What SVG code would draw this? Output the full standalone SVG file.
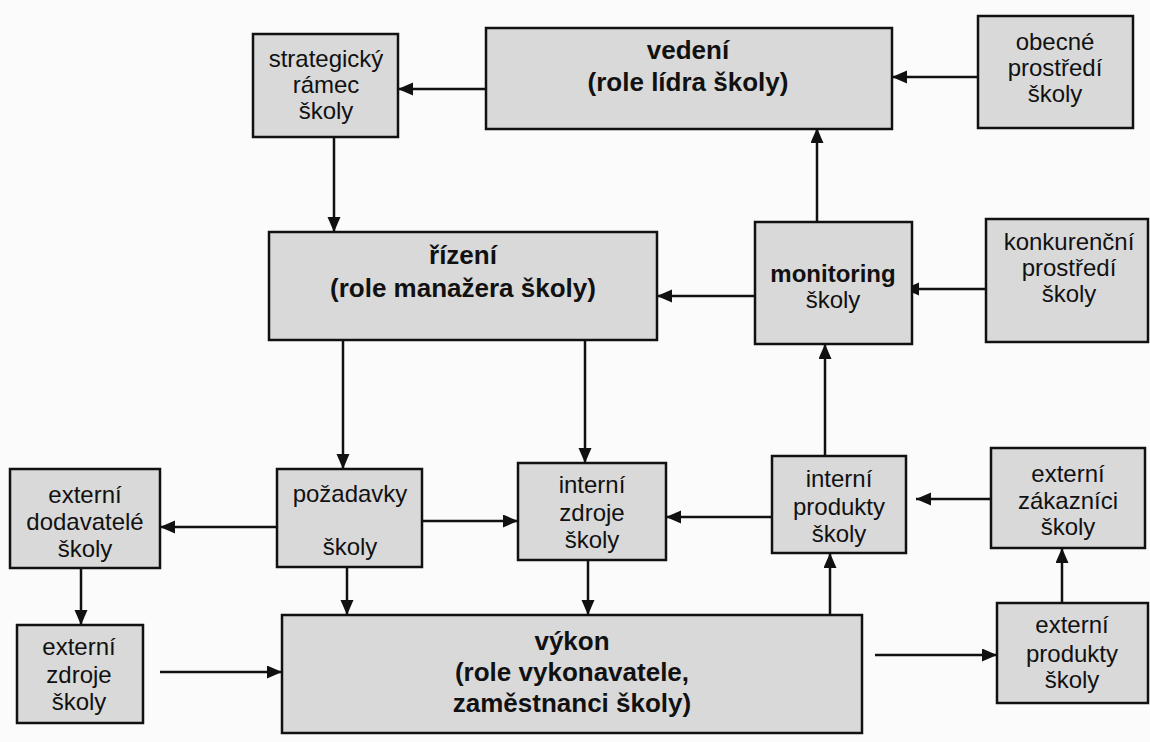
<svg xmlns="http://www.w3.org/2000/svg" width="1150" height="742" viewBox="0 0 1150 742">
<defs>
<marker id="ah" markerUnits="userSpaceOnUse" markerWidth="16" markerHeight="14" refX="15" refY="6.5" orient="auto">
<path d="M0,0 L15,6.5 L0,13 z" fill="#111"/>
</marker>
<style>
.box{fill:#d9d9d9;stroke:#111;stroke-width:2.5}
.t{font-family:"Liberation Sans",Arial,sans-serif;font-size:24px;fill:#111;text-anchor:middle}
.b{font-family:"Liberation Sans",Arial,sans-serif;font-size:26px;font-weight:bold;fill:#111;text-anchor:middle}
.bm{font-family:"Liberation Sans",Arial,sans-serif;font-size:24px;font-weight:bold;fill:#111;text-anchor:middle}
.c{fill:none;stroke:#111;stroke-width:2.5;marker-end:url(#ah)}
</style>
</defs>
<rect width="1150" height="742" fill="#fbfbfb"/>
<g id="connectors">
<path class="c" d="M486,89 L398,89"/>
<path class="c" d="M978,77 L892,77"/>
<path class="c" d="M334,137 L334,232"/>
<path class="c" d="M817,222 L817,128"/>
<path class="c" d="M755,296 L657,296"/>
<path class="c" d="M986,289 L904,289"/>
<path class="c" d="M343,340 L343,469"/>
<path class="c" d="M585,340 L585,463"/>
<path class="c" d="M277,527 L160,527"/>
<path class="c" d="M422,521 L518,521"/>
<path class="c" d="M772,517 L666,517"/>
<path class="c" d="M825,456 L825,344"/>
<path class="c" d="M991,499 L916,499"/>
<path class="c" d="M81,568 L81,625"/>
<path class="c" d="M347,567 L347,615"/>
<path class="c" d="M588,560 L588,615"/>
<path class="c" d="M830,615 L830,553"/>
<path class="c" d="M160,672 L282,672"/>
<path class="c" d="M875,655 L997,655"/>
<path class="c" d="M1062,603 L1062,548"/>
</g>
<g id="strategicky">
<rect class="box" x="253" y="34" width="145" height="103"/>
<text class="t" x="326" y="67">strategický</text>
<text class="t" x="326" y="93">rámec</text>
<text class="t" x="326" y="119">školy</text>
</g>
<g id="vedeni">
<rect class="box" x="486" y="28" width="406" height="101"/>
<text class="b" x="688" y="59">vedení</text>
<text class="b" x="688" y="91">(role lídra školy)</text>
</g>
<g id="obecne">
<rect class="box" x="978" y="16" width="155" height="112"/>
<text class="t" x="1055" y="50">obecné</text>
<text class="t" x="1055" y="76">prostředí</text>
<text class="t" x="1055" y="102">školy</text>
</g>
<g id="rizeni">
<rect class="box" x="269" y="232" width="388" height="108"/>
<text class="b" x="463" y="264">řízení</text>
<text class="b" x="463" y="297">(role manažera školy)</text>
</g>
<g id="monitoring">
<rect class="box" x="755" y="222" width="157" height="122"/>
<text class="bm" x="833" y="282">monitoring</text>
<text class="t" x="833" y="308">školy</text>
</g>
<g id="konkurencni">
<rect class="box" x="986" y="219" width="162" height="123"/>
<text class="t" x="1069" y="250">konkurenční</text>
<text class="t" x="1069" y="276">prostředí</text>
<text class="t" x="1069" y="302">školy</text>
</g>
<g id="dodavatele">
<rect class="box" x="10" y="469" width="150" height="99"/>
<text class="t" x="85" y="503">externí</text>
<text class="t" x="85" y="530">dodavatelé</text>
<text class="t" x="85" y="557">školy</text>
</g>
<g id="pozadavky">
<rect class="box" x="277" y="469" width="145" height="98"/>
<text class="t" x="350" y="502">požadavky</text>
<text class="t" x="350" y="555">školy</text>
</g>
<g id="interni-zdroje">
<rect class="box" x="518" y="463" width="148" height="97"/>
<text class="t" x="592" y="493">interní</text>
<text class="t" x="592" y="521">zdroje</text>
<text class="t" x="592" y="548">školy</text>
</g>
<g id="interni-produkty">
<rect class="box" x="772" y="456" width="134" height="97"/>
<text class="t" x="839" y="487">interní</text>
<text class="t" x="839" y="515">produkty</text>
<text class="t" x="839" y="542">školy</text>
</g>
<g id="zakaznici">
<rect class="box" x="991" y="448" width="154" height="100"/>
<text class="t" x="1068" y="482">externí</text>
<text class="t" x="1068" y="509">zákazníci</text>
<text class="t" x="1068" y="535">školy</text>
</g>
<g id="externi-zdroje">
<rect class="box" x="17" y="625" width="126" height="98"/>
<text class="t" x="79" y="655">externí</text>
<text class="t" x="79" y="683">zdroje</text>
<text class="t" x="79" y="710">školy</text>
</g>
<g id="vykon">
<rect class="box" x="282" y="615" width="580" height="118"/>
<text class="b" x="572" y="650">výkon</text>
<text class="b" x="572" y="681">(role vykonavatele,</text>
<text class="b" x="572" y="712">zaměstnanci školy)</text>
</g>
<g id="externi-produkty">
<rect class="box" x="997" y="603" width="151" height="100"/>
<text class="t" x="1072" y="633">externí</text>
<text class="t" x="1072" y="662">produkty</text>
<text class="t" x="1072" y="688">školy</text>
</g>
</svg>
